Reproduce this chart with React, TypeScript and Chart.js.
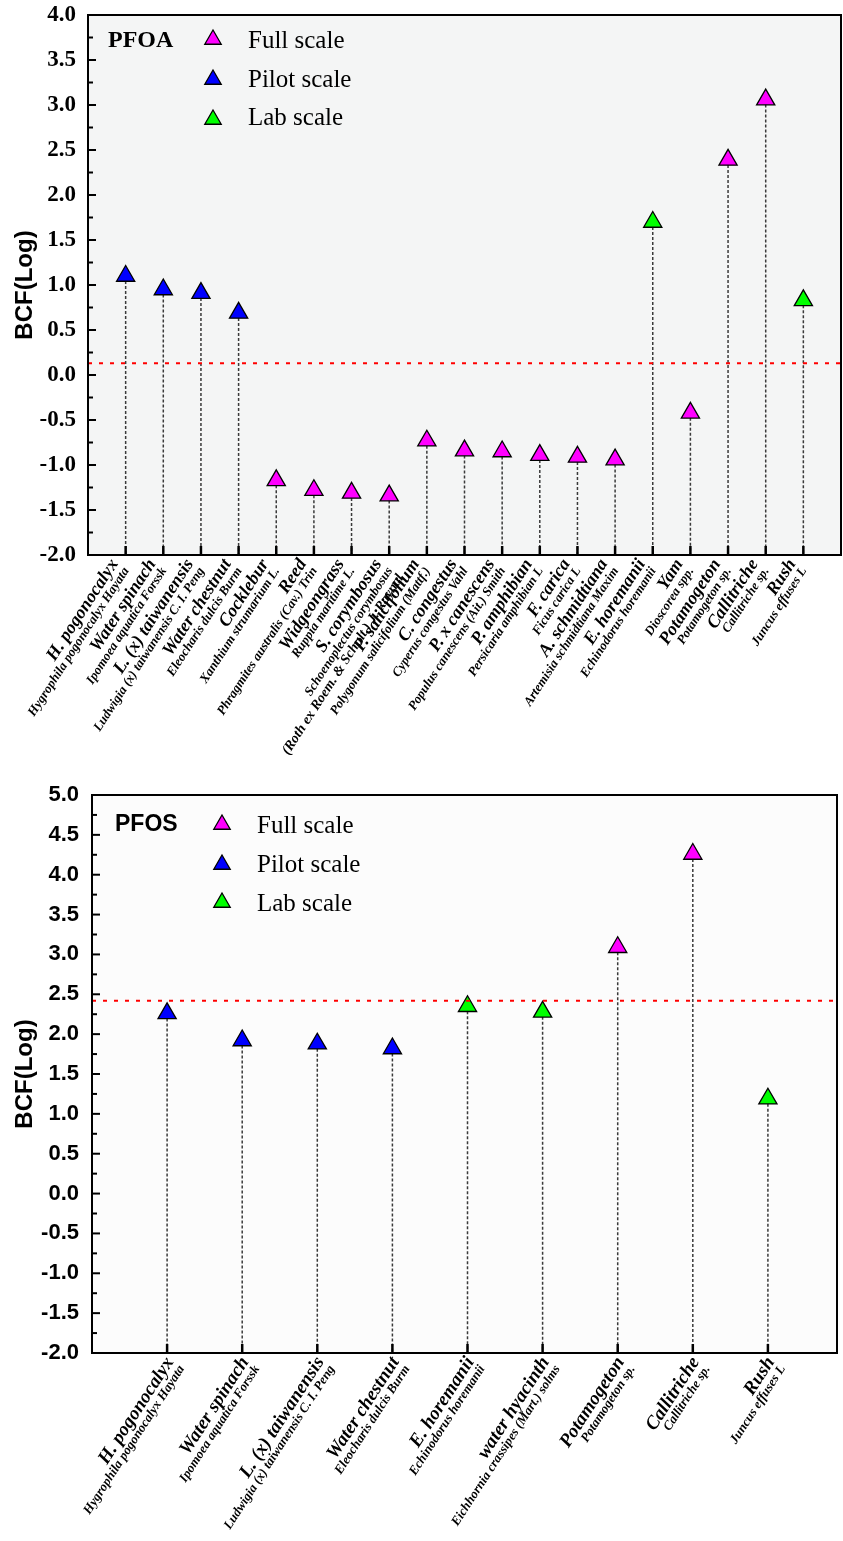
import React, { useEffect, useRef } from 'react';
import { Chart, registerables } from 'chart.js';

Chart.register(...registerables);

// ---------- DATA ----------
const scaleKeys = ['Full', 'Pilot', 'Lab'];
const scaleNames = ['Full scale', 'Pilot scale', 'Lab scale'];
const scaleColors = ['#ff00ff', '#0000ff', '#00ff00'];

const pfoaCommon = [
  'H. pogonocalyx', 'Water spinach', 'L. (x) taiwanensis', 'Water chestnut', 'Cocklebur',
  'Reed', 'Widgeongrass', 'S. corymbosus', 'P. salicifolium', 'C. congestus',
  'P. x canescens', 'P. amphibian', 'F. carica', 'A. schmidtiana', 'E. horemanii',
  'Yam', 'Potamogeton', 'Callitriche', 'Rush',
];
const pfoaScientific = [
  'Hygrophila pogonocalyx Hayata', 'Ipomoea aquatica Forssk', 'Ludwigia (x) taiwanensis C. I. Peng',
  'Eleocharis dulcis Burm', 'Xanthium strumarium L.', 'Phragmites australis (Cav.) Trin',
  'Ruppia maritime L.', 'Schoenoplectus corymbosus\n(Roth ex Roem. & Schult.) J. Raynal',
  'Polygonum salicifolium (Mattf.)', 'Cyperus congestus Vahl', 'Populus canescens (Ait.) Smith',
  'Persicaria amphibian L', 'Ficus carica L', 'Artemisia schmidtiana Maxim', 'Echinodorus horemanii',
  'Dioscorea spp.', 'Potamogeton sp.', 'Callitriche sp.', 'Juncus effuses L',
];
const pfoaValues = [1.10, 0.95, 0.91, 0.69, -1.17, -1.28, -1.31, -1.34, -0.73, -0.84, -0.85, -0.89, -0.91, -0.94, 1.70, -0.42, 2.39, 3.06, 0.83];
const pfoaScale = ['Pilot', 'Pilot', 'Pilot', 'Pilot', 'Full', 'Full', 'Full', 'Full', 'Full', 'Full', 'Full', 'Full', 'Full', 'Full', 'Lab', 'Full', 'Full', 'Full', 'Lab'];
const pfoaReference = 0.13;
const pfoaYRange = [-2, 4];

const pfosCommon = [
  'H. pogonocalyx', 'Water spinach', 'L. (x) taiwanensis', 'Water chestnut', 'E. horemanii',
  'water hyacinth', 'Potamogeton', 'Callitriche', 'Rush',
];
const pfosScientific = [
  'Hygrophila pogonocalyx Hayata', 'Ipomoea aquatica Forssk', 'Ludwigia (x) taiwanensis C. I. Peng',
  'Eleocharis dulcis Burm', 'Echinodorus horemanii', 'Eichhornia crassipes (Mart.) solms',
  'Potamogeton sp.', 'Callitriche sp.', 'Juncus effuses L',
];
const pfosValues = [2.26, 1.92, 1.88, 1.82, 2.35, 2.28, 3.09, 4.26, 1.19];
const pfosScale = ['Pilot', 'Pilot', 'Pilot', 'Pilot', 'Lab', 'Lab', 'Full', 'Full', 'Lab'];
const pfosReference = 2.42;
const pfosYRange = [-2, 5];

// ---------- HELPERS ----------
function triangle(ctx: CanvasRenderingContext2D, x: number, y: number, r: number, fill: string) {
  ctx.beginPath();
  ctx.moveTo(x, y - r);
  ctx.lineTo(x + r * 0.866, y + r / 2);
  ctx.lineTo(x - r * 0.866, y + r / 2);
  ctx.closePath();
  ctx.fillStyle = fill;
  ctx.fill();
  ctx.lineWidth = 1.3;
  ctx.strokeStyle = '#000';
  ctx.stroke();
}

function makeConfig(o: any) {
  const datasets: any[] = scaleKeys.map((k, si) => ({
    type: 'scatter',
    label: scaleNames[si],
    data: o.values.map((v: number, i: number) => (o.scales[i] === k ? { x: i + 1, y: v } : null)).filter(Boolean),
    pointStyle: 'triangle',
    pointRadius: 10.5,
    pointHoverRadius: 10.5,
    backgroundColor: scaleColors[si],
    borderColor: '#000',
    borderWidth: 1.3,
    order: 1,
  }));
  datasets.push({
    type: 'line',
    label: 'reference',
    data: [{ x: 0, y: o.ref }, { x: o.xMax, y: o.ref }],
    borderColor: '#ff0000',
    borderWidth: 2,
    borderDash: [4, 7],
    pointRadius: 0,
    order: 0,
  });

  const plugin = {
    id: 'origin' + o.tag,
    beforeDraw(chart: any) {
      const { ctx, chartArea: a } = chart;
      ctx.save();
      ctx.fillStyle = o.bg;
      ctx.fillRect(a.left, a.top, a.right - a.left, a.bottom - a.top);
      ctx.restore();
    },
    beforeDatasetsDraw(chart: any) {
      const { ctx, chartArea: a } = chart;
      ctx.save();
      ctx.strokeStyle = '#3a3a3a';
      ctx.lineWidth = 1.5;
      ctx.setLineDash([3, 2]);
      chart.data.datasets.forEach((ds: any, i: number) => {
        if (ds.type !== 'scatter') return;
        chart.getDatasetMeta(i).data.forEach((el: any) => {
          ctx.beginPath();
          ctx.moveTo(el.x, el.y);
          ctx.lineTo(el.x, a.bottom);
          ctx.stroke();
        });
      });
      ctx.restore();
    },
    afterDraw(chart: any) {
      const { ctx, chartArea: a, scales } = chart;
      const xs = scales.x;
      const ys = scales.y;
      ctx.save();
      ctx.strokeStyle = '#000';
      ctx.lineWidth = 2;
      ctx.setLineDash([]);
      ys.ticks.forEach((t: any, idx: number) => {
        const py = ys.getPixelForValue(t.value);
        ctx.beginPath();
        ctx.moveTo(a.left, py);
        ctx.lineTo(a.left + 8, py);
        ctx.stroke();
        if (idx < ys.ticks.length - 1) {
          const pm = ys.getPixelForValue((t.value + ys.ticks[idx + 1].value) / 2);
          ctx.beginPath();
          ctx.moveTo(a.left, pm);
          ctx.lineTo(a.left + 5, pm);
          ctx.stroke();
        }
      });
      ctx.lineWidth = 2.5;
      o.common.forEach((_: string, i: number) => {
        const px = xs.getPixelForValue(i + 1);
        ctx.beginPath();
        ctx.moveTo(px, a.bottom);
        ctx.lineTo(px, a.bottom - 9);
        ctx.stroke();
      });
      ctx.lineWidth = 2;
      ctx.strokeRect(a.left, a.top, a.right - a.left, a.bottom - a.top);

      // x labels
      ctx.fillStyle = '#000';
      o.common.forEach((name: string, i: number) => {
        const px = xs.getPixelForValue(i + 1);
        const lines = [name, ...o.sci[i].split('\n')];
        ctx.save();
        ctx.translate(px + o.lab.dx, a.bottom + o.lab.dy);
        ctx.rotate(-o.lab.angle * Math.PI / 180);
        ctx.textAlign = 'right';
        ctx.textBaseline = 'middle';
        lines.forEach((ln: string, j: number) => {
          ctx.font = j === 0 ? o.lab.font1 : (j === 2 ? o.lab.font3 : o.lab.font2);
          ctx.fillText(ln, 0, j === 0 ? 0 : o.lab.gap + (j - 1) * o.lab.gap2);
        });
        ctx.restore();
      });

      // legend
      const L = o.legend;
      ctx.textAlign = 'left';
      ctx.textBaseline = 'alphabetic';
      ctx.font = L.tagFont;
      ctx.fillText(o.tag, a.left + L.tagX, a.top + L.tagY);
      chart.data.datasets.forEach((ds: any, i: number) => {
        if (ds.type !== 'scatter') return;
        triangle(ctx, a.left + L.triX, a.top + L.triY[i], 9.5, ds.backgroundColor);
        ctx.fillStyle = '#000';
        ctx.font = L.textFont;
        ctx.fillText(ds.label, a.left + L.textX, a.top + L.textY[i]);
      });
      ctx.restore();
    },
  };

  return {
    type: 'scatter',
    data: { datasets },
    plugins: [plugin],
    options: {
      animation: false,
      responsive: false,
      events: [],
      layout: { padding: o.padding, autoPadding: false },
      plugins: { legend: { display: false }, tooltip: { enabled: false } },
      scales: {
        x: {
          type: 'linear',
          min: 0,
          max: o.xMax,
          grid: { display: false, drawTicks: false },
          border: { display: false },
          ticks: { display: false },
          afterFit: (s: any) => {
            s.height = o.xHeight;
            s.paddingLeft = 0; s.paddingRight = 0;
          },
        },
        y: {
          type: 'linear',
          min: o.yRange[0],
          max: o.yRange[1],
          grid: { display: false, drawTicks: false },
          border: { display: false },
          ticks: {
            stepSize: 0.5,
            padding: o.tickPad,
            color: '#000',
            font: o.tickFont,
            callback: (v: any) => Number(v).toFixed(1),
          },
          title: {
            display: true,
            text: 'BCF(Log)',
            color: '#000',
            font: { family: 'Liberation Sans', weight: 'bold', size: 24, lineHeight: 1 },
            padding: { top: 13, bottom: 0 },
          },
          afterFit: (s: any) => {
            s.width = o.yWidth;
            s.paddingTop = 0; s.paddingBottom = 0;
          },
        },
      },
    },
  };
}

const topOpts = {
  tag: 'PFOA',
  common: pfoaCommon,
  sci: pfoaScientific,
  values: pfoaValues,
  scales: pfoaScale,
  ref: pfoaReference,
  xMax: 20,
  yRange: pfoaYRange,
  padding: { top: 15, right: 2, left: 0, bottom: 0 },
  yWidth: 88,
  xHeight: 215,
  tickPad: 12,
  tickFont: { family: 'Liberation Serif', weight: 'bold', size: 23 },
  bg: '#f4f5f5',
  lab: {
    angle: 57, dx: -11, dy: 6, gap: 14, gap2: 13,
    font1: 'bold italic 18px "Liberation Serif"',
    font2: 'bold italic 13px "Liberation Serif"',
    font3: 'bold italic 14px "Liberation Serif"',
  },
  legend: {
    tagFont: 'bold 24px "Liberation Serif"', tagX: 20, tagY: 32,
    triX: 125, triY: [24.5, 64.5, 104.5],
    textFont: '25px "Liberation Serif"', textX: 160, textY: [33, 72, 110],
  },
};

const bottomOpts = {
  tag: 'PFOS',
  common: pfosCommon,
  sci: pfosScientific,
  values: pfosValues,
  scales: pfosScale,
  ref: pfosReference,
  xMax: 9.92,
  yRange: pfosYRange,
  padding: { top: 25, right: 6, left: 0, bottom: 0 },
  yWidth: 92,
  xHeight: 188,
  tickPad: 13,
  tickFont: { family: 'Liberation Sans', weight: 'bold', size: 22 },
  bg: '#fcfcfc',
  lab: {
    angle: 57, dx: 3, dy: 6, gap: 14, gap2: 13,
    font1: 'bold italic 19px "Liberation Serif"',
    font2: 'bold italic 13px "Liberation Serif"',
    font3: 'bold italic 13px "Liberation Serif"',
  },
  legend: {
    tagFont: 'bold 23px "Liberation Sans"', tagX: 23, tagY: 36,
    triX: 130, triY: [29.5, 69.5, 107.5],
    textFont: '25px "Liberation Serif"', textX: 165, textY: [38, 77, 116],
  },
};

function ChartCanvas({ opts, top, height }: { opts: any; top: number; height: number }) {
  const ref = useRef<HTMLCanvasElement | null>(null);
  useEffect(() => {
    if (!ref.current) return;
    const chart = new Chart(ref.current, makeConfig(opts) as any);
    return () => chart.destroy();
  }, [opts]);
  return (
    <canvas
      ref={ref}
      width={843}
      height={height}
      style={{ position: 'absolute', left: 0, top, width: 843, height, display: 'block' }}
    />
  );
}

export default function App() {
  return (
    <div style={{ position: 'absolute', left: 0, top: 0, width: 843, height: 1541, background: '#fff', overflow: 'hidden' }}>
      <ChartCanvas opts={topOpts} top={0} height={770} />
      <ChartCanvas opts={bottomOpts} top={770} height={771} />
    </div>
  );
}
